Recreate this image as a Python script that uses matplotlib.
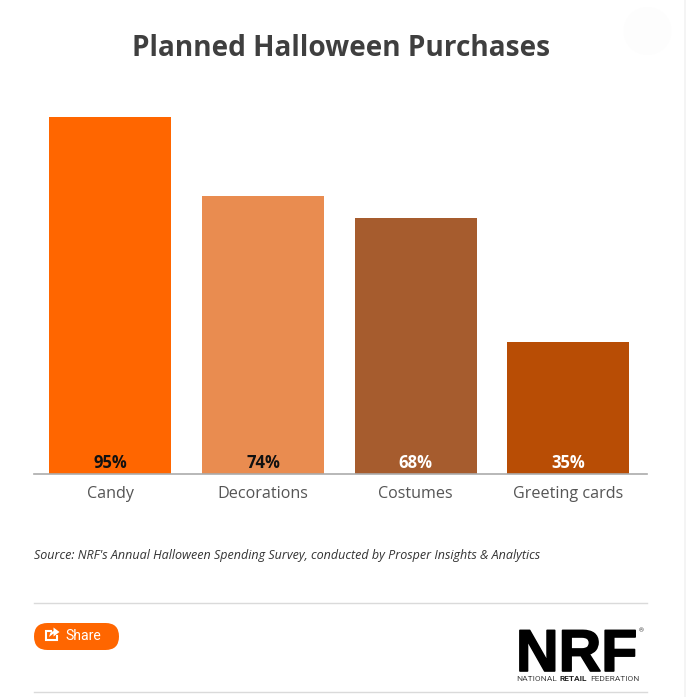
import matplotlib
matplotlib.use("Agg")
import matplotlib.pyplot as plt
import matplotlib.patheffects as pe
from matplotlib.patches import FancyBboxPatch, Rectangle, Polygon

categories = ["Candy", "Decorations", "Costumes", "Greeting cards"]
values = [95, 74, 68, 35]
colors = ["#FF6600", "#E98C50", "#A65C2E", "#B84D05"]
title = "Planned Halloween Purchases"
source = "Source: NRF's Annual Halloween Spending Survey, conducted by Prosper Insights & Analytics"

W, H = 686, 697
plt.rcParams["font.family"] = ["Open Sans", "DejaVu Sans"]
fig = plt.figure(figsize=(W / 100, H / 100), dpi=100, facecolor="white")

# overlay in pixel coordinates for page furniture
bg = fig.add_axes([0, 0, 1, 1])
bg.set_xlim(0, W)
bg.set_ylim(H, 0)
bg.axis("off")

# chart axes
left, right, top, base = 34, 647, 117, 474
ax = fig.add_axes([left / W, 1 - base / H, (right - left) / W, (base - top) / H])
ax.patch.set_alpha(0)
x = list(range(len(categories)))
bars = ax.bar(x, values, width=0.8, color=colors)
ax.set_xlim(-0.5, 3.516)
ax.set_ylim(0, 95)
ax.set_yticks([])
ax.set_xticks(x, categories)
ax.tick_params(axis="x", length=0, pad=9, labelsize=11.6, labelcolor="#555555")
for s in ["top", "left", "right"]:
    ax.spines[s].set_visible(False)
ax.spines["bottom"].set_color("#ABABAB")
ax.spines["bottom"].set_linewidth(1.2)

label_colors = ["#111111", "#111111", "white", "white"]
for b, v, c in zip(bars, values, label_colors):
    ax.annotate(f"{v}%", (b.get_x() + b.get_width() / 2, 0), xytext=(0, 1.5),
                textcoords="offset points", ha="center", va="bottom",
                fontsize=12, fontweight="bold", color=c)

bg.text(341, 49, title, ha="center", va="center", fontsize=20.2,
        fontweight="bold", color="#3F3F3F")
bg.text(34, 556, source, ha="left", va="center", fontsize=9.0,
        fontstyle="italic", color="#333333")

# separators
for y in (603, 692):
    bg.plot([34, 647], [y, y], color="#DADADA", lw=1)

# faint circle and scrollbar edge
bg.add_patch(plt.Circle((647.5, 31), 24, color="#FDFDFD", lw=0))
bg.add_patch(Rectangle((684, 0), 2, H, color="#F4F4F4", lw=0))

# share button
bg.add_patch(FancyBboxPatch((34, 623), 85, 27,
                            boxstyle="round,pad=0,rounding_size=13.5",
                            fc="#FF6600", ec="none"))
bg.plot([51, 46, 46, 57, 57], [630.5, 630.5, 640, 640, 635.5],
        color="white", lw=1.5, solid_joinstyle="miter")
bg.add_patch(Polygon([[49, 637], [50.5, 632.5], [53.5, 631], [53.5, 627.5], [59.5, 632],
                      [53.5, 636.5], [53.5, 633.5]], fc="white", ec="none"))
bg.text(65, 636.5, "Share", ha="left", va="center", fontsize=10.1,
        color="white", family=["Roboto", "DejaVu Sans"])

# NRF logo as text
bg.text(516, 671, "NRF", ha="left", va="baseline", fontsize=42.5, fontweight="bold",
        color="black", family=["Liberation Sans", "DejaVu Sans"],
        path_effects=[pe.withStroke(linewidth=1.2, foreground="black")])
bg.text(641, 631, "®", ha="center", va="center", fontsize=4.5, color="#333333",
        family=["Roboto", "DejaVu Sans"])
bg.text(516, 681, "NATIONAL", ha="left", va="baseline", fontsize=6, color="#444444",
        family=["Roboto", "DejaVu Sans"])
bg.text(560, 681, "RETAIL", ha="left", va="baseline", fontsize=6, fontweight="bold",
        color="#222222", family=["Roboto", "DejaVu Sans"])
bg.text(590, 681, "FEDERATION", ha="left", va="baseline", fontsize=6, color="#444444",
        family=["Roboto", "DejaVu Sans"])

fig.savefig("out.png", dpi=100, facecolor="white")
